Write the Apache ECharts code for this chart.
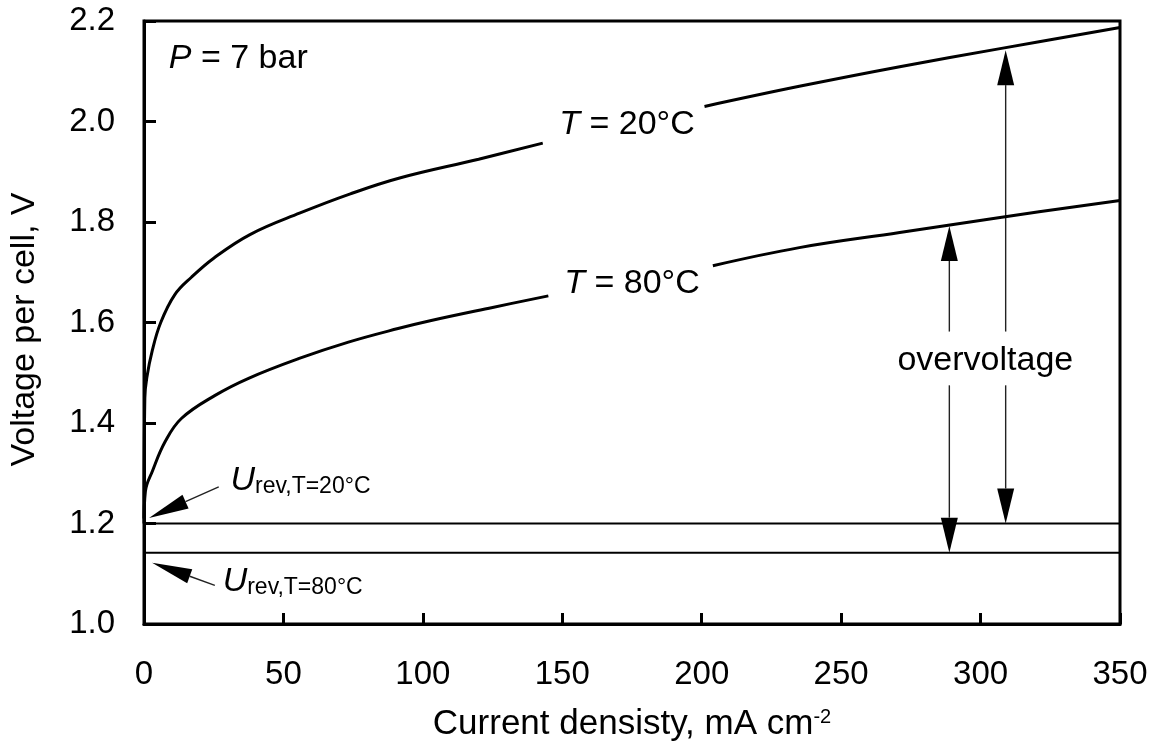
<!DOCTYPE html>
<html>
<head>
<meta charset="utf-8">
<title>Voltage per cell vs current density</title>
<script src="https://cdn.jsdelivr.net/npm/echarts@6/dist/echarts.min.js"></script>
<style>
  html, body { margin: 0; padding: 0; background: #fff; }
  #chart { width: 1159px; height: 747px; }
</style>
</head>
<body>
<div id="chart"></div>
<script>
// -----------------------------------------------------------------------------
// Electrolyser polarisation curves, P = 7 bar
// -----------------------------------------------------------------------------
// null = gap in the curve where the T label sits
const currentT20 = [0, 0.3, 1, 3, 6, 11, 17, 25, 38, 56, 74, 92, 120, 143, 172, 201, 235, 271, 307, 350];
const voltageT20 = [1.21, 1.45, 1.49, 1.545, 1.6, 1.655, 1.69, 1.728, 1.775, 1.818, 1.856, 1.888, 1.925, 1.957, null, 2.03, 2.07, 2.109, 2.145, 2.187];

const currentT80 = [0, 0.5, 3, 7.6, 13.4, 25.5, 37.5, 55.4, 73.3, 91.1, 103, 125, 145, 175, 204, 235, 271, 307, 350];
const voltageT80 = [1.2, 1.264, 1.304, 1.363, 1.409, 1.455, 1.489, 1.528, 1.561, 1.588, 1.604, 1.63, 1.653, null, 1.713, 1.749, 1.779, 1.809, 1.843];

// reversible cell voltages
const uRev20 = 1.2;
const uRev80 = 1.142;
const currentRange = [0, 350];

// axes
const xTicks = [0, 50, 100, 150, 200, 250, 300, 350];
const yTicks = [1.0, 1.2, 1.4, 1.6, 1.8, 2.0, 2.2];

// annotation arrows: [current, voltage] of tail and tip
const arrowTail = [[309, 1.582], [309, 1.475], [288.8, 1.582], [288.8, 1.475], [26.8, 1.273], [25.4, 1.077]];
const arrowTip = [[309, 2.142], [309, 1.2], [288.8, 1.792], [288.8, 1.142], [1.8, 1.211], [2.9, 1.122]];

// annotation texts and their anchor points
const noteText = ["{i|P} = 7 bar", "{i|T} = 20°C", "{i|T} = 80°C", "overvoltage", "{u|U}{s|rev,T=20°C}", "{u|U}{s|rev,T=80°C}"];
const noteAt = [[8.9, 2.126], [173.2, 1.993], [175, 1.677], [301.7, 1.524], [31, 1.285], [28.2, 1.084]];
const noteAnchor = ["left", "center", "center", "center", "left", "left"];

const FONT = "'Liberation Sans', Arial, Helvetica, sans-serif";
const INK = "#000";

function pairs(xs, ys) {
  return xs.map((x, i) => [x, ys[i] == null ? "-" : ys[i]]);
}

function arrowHead(i) {
  // the last two are the U_rev pointers
  return i >= 4 ? { len: 40, w: 15 } : { len: 35, w: 17 };
}

function renderArrow(params, api) {
  const tail = api.coord([api.value(0), api.value(1)]);
  const tip = api.coord([api.value(2), api.value(3)]);
  const head = arrowHead(params.dataIndex);
  const dx = tip[0] - tail[0];
  const dy = tip[1] - tail[1];
  const len = Math.hypot(dx, dy) || 1;
  const ux = dx / len;
  const uy = dy / len;
  const bx = tip[0] - ux * head.len;
  const by = tip[1] - uy * head.len;
  const px = (-uy * head.w) / 2;
  const py = (ux * head.w) / 2;
  return {
    type: "group",
    children: [
      { type: "line", shape: { x1: tail[0], y1: tail[1], x2: bx, y2: by }, style: { stroke: "#222", lineWidth: 1.4 } },
      { type: "polygon", shape: { points: [tip, [bx + px, by + py], [bx - px, by - py]] }, style: { fill: "#000" } }
    ]
  };
}

const richNotes = {
  i: { fontFamily: FONT, fontSize: 34, fontStyle: "italic", color: INK },
  u: { fontFamily: FONT, fontSize: 34, fontStyle: "italic", color: INK, lineHeight: 34 },
  s: { fontFamily: FONT, fontSize: 23, color: INK, verticalAlign: "bottom", lineHeight: 18 }
};

const chart = echarts.init(document.getElementById("chart"), null, { renderer: "canvas" });

chart.setOption({
  animation: false,
  backgroundColor: "#fff",
  grid: { left: 142, right: 39, top: 21, bottom: 121, show: true, borderColor: "#000", borderWidth: 3 },
  xAxis: {
    type: "value",
    min: xTicks[0],
    max: xTicks[xTicks.length - 1],
    interval: xTicks[1] - xTicks[0],
    name: "Current densisty, mA cm{sup|-2}",
    nameLocation: "middle",
    nameGap: 83,
    nameTextStyle: {
      fontFamily: FONT, fontSize: 35, color: INK,
      rich: { sup: { fontFamily: FONT, fontSize: 20, color: INK, verticalAlign: "top", lineHeight: 14 } }
    },
    axisLine: { lineStyle: { color: "#000", width: 3 } },
    axisTick: { inside: true, length: 11, lineStyle: { color: "#000", width: 3 } },
    axisLabel: { margin: 34, fontFamily: FONT, fontSize: 33, color: INK },
    splitLine: { show: false }
  },
  yAxis: {
    type: "value",
    min: yTicks[0],
    max: yTicks[yTicks.length - 1],
    interval: 0.2,
    name: "Voltage per cell, V",
    nameLocation: "middle",
    nameGap: 102,
    nameTextStyle: { fontFamily: FONT, fontSize: 34, color: INK, padding: [0, 14, 0, 0] },
    axisLine: { lineStyle: { color: "#000", width: 3 } },
    axisTick: { inside: true, length: 12, lineStyle: { color: "#000", width: 3 } },
    axisLabel: { margin: 29, fontFamily: FONT, fontSize: 33, color: INK, formatter: (v) => v.toFixed(1) },
    splitLine: { show: false }
  },
  series: [
    {
      name: "T = 20°C",
      type: "line",
      data: pairs(currentT20, voltageT20),
      smooth: 0.4,
      showSymbol: false,
      connectNulls: false,
      lineStyle: { color: "#000", width: 3 },
      silent: true
    },
    {
      name: "T = 80°C",
      type: "line",
      data: pairs(currentT80, voltageT80),
      smooth: 0.4,
      showSymbol: false,
      connectNulls: false,
      lineStyle: { color: "#000", width: 3 },
      silent: true
    },
    {
      name: "U rev 20",
      type: "line",
      data: currentRange.map((x) => [x, uRev20]),
      showSymbol: false,
      lineStyle: { color: "#000", width: 2 },
      silent: true
    },
    {
      name: "U rev 80",
      type: "line",
      data: currentRange.map((x) => [x, uRev80]),
      showSymbol: false,
      lineStyle: { color: "#000", width: 2 },
      silent: true
    },
    {
      name: "arrows",
      type: "custom",
      renderItem: renderArrow,
      encode: { x: [0, 2], y: [1, 3] },
      data: arrowTail.map((t, i) => [t[0], t[1], arrowTip[i][0], arrowTip[i][1]]),
      clip: false,
      silent: true,
      z: 3
    },
    {
      name: "notes",
      type: "scatter",
      symbolSize: 0,
      itemStyle: { opacity: 1 },
      silent: true,
      z: 4,
      data: noteAt.map((p, i) => ({
        value: p,
        label: {
          show: true,
          position: noteAnchor[i] === "left" ? "right" : "inside",
          distance: 0,
          formatter: noteText[i],
          fontFamily: FONT,
          fontSize: 34,
          color: INK,
          rich: richNotes
        }
      }))
    }
  ]
});
</script>
</body>
</html>
